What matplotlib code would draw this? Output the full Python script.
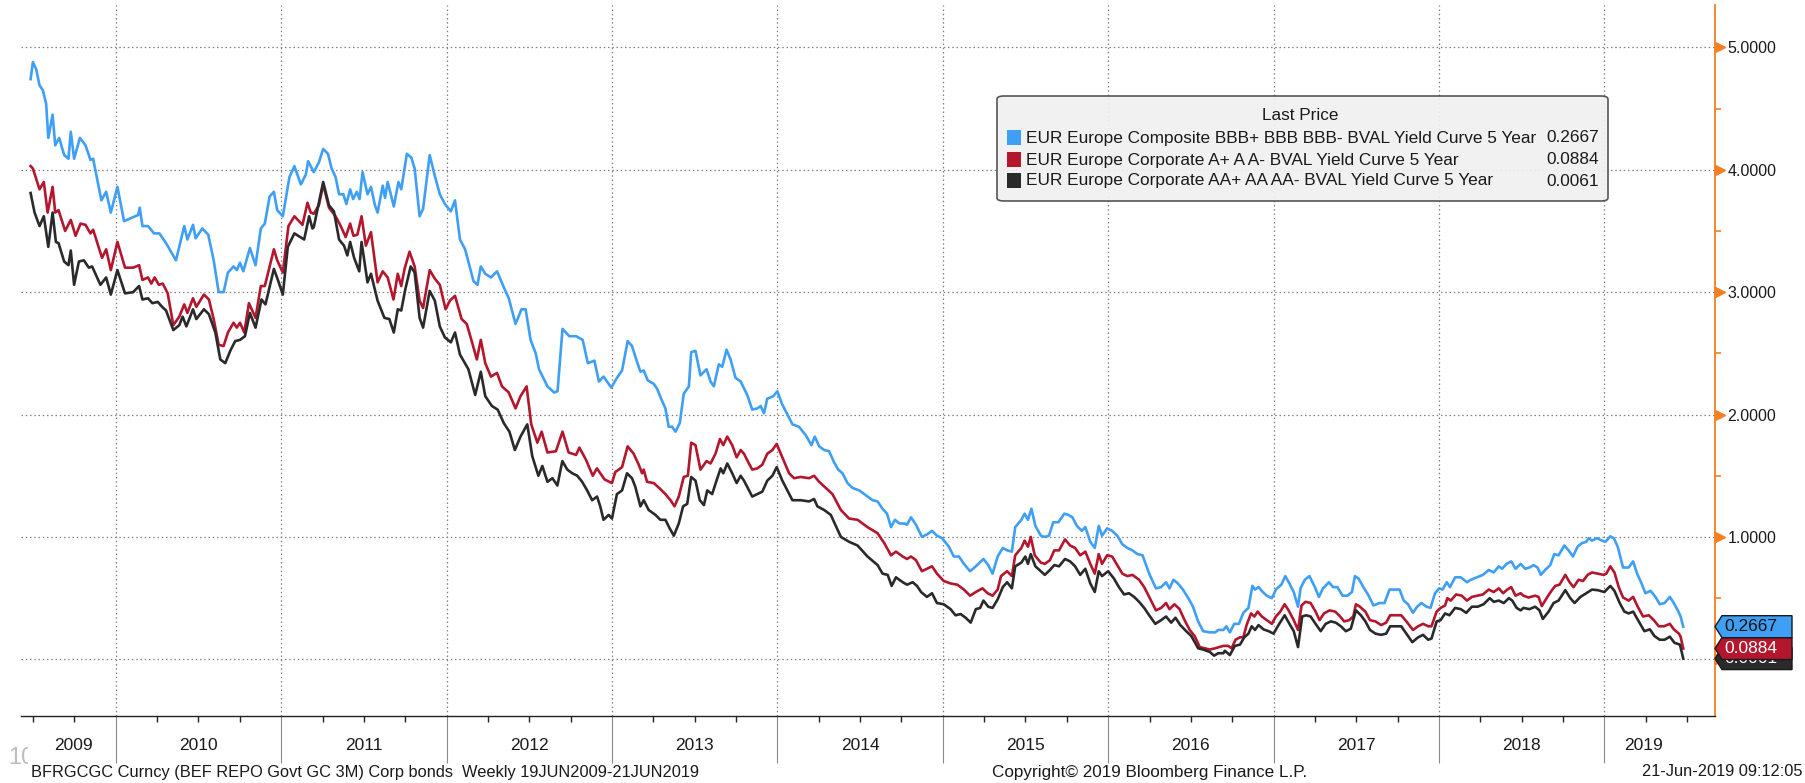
import matplotlib
matplotlib.use('Agg')
import matplotlib.pyplot as plt
from matplotlib.patches import Polygon, FancyBboxPatch, Rectangle
from matplotlib.transforms import Bbox, blended_transform_factory, ScaledTranslation

plt.rcParams['font.family'] = ['Liberation Sans', 'DejaVu Sans']

# ---- data: decimal year, 5y yield (%) ----
bbb_x = [2009.485, 2009.499, 2009.519, 2009.539, 2009.559, 2009.579, 2009.592, 2009.618, 2009.634, 2009.658,
         2009.688, 2009.714, 2009.728, 2009.748, 2009.783, 2009.817, 2009.847, 2009.863, 2009.913, 2009.942,
         2009.970, 2010.010, 2010.050, 2010.135, 2010.145, 2010.161, 2010.195, 2010.231, 2010.264, 2010.304,
         2010.364, 2010.414, 2010.433, 2010.467, 2010.483, 2010.523, 2010.559, 2010.592, 2010.622, 2010.652,
         2010.678, 2010.712, 2010.732, 2010.751, 2010.771, 2010.811, 2010.845, 2010.877, 2010.901, 2010.930,
         2010.956, 2010.976, 2011.010, 2011.050, 2011.080, 2011.119, 2011.149, 2011.163, 2011.197, 2011.228,
         2011.254, 2011.283, 2011.305, 2011.329, 2011.350, 2011.376, 2011.394, 2011.417, 2011.435, 2011.457,
         2011.474, 2011.492, 2011.522, 2011.543, 2011.567, 2011.583, 2011.614, 2011.628, 2011.644, 2011.681,
         2011.709, 2011.726, 2011.760, 2011.787, 2011.807, 2011.837, 2011.858, 2011.898, 2011.929, 2011.959,
         2011.990, 2012.026, 2012.051, 2012.081, 2012.112, 2012.163, 2012.187, 2012.207, 2012.234, 2012.268,
         2012.305, 2012.346, 2012.376, 2012.417, 2012.453, 2012.478, 2012.508, 2012.539, 2012.559, 2012.610,
         2012.650, 2012.671, 2012.701, 2012.742, 2012.783, 2012.823, 2012.854, 2012.894, 2012.921, 2012.949,
         2012.996, 2013.030, 2013.061, 2013.095, 2013.121, 2013.147, 2013.172, 2013.192, 2013.216, 2013.253,
         2013.273, 2013.297, 2013.323, 2013.343, 2013.364, 2013.384, 2013.410, 2013.434, 2013.465, 2013.479,
         2013.505, 2013.535, 2013.572, 2013.596, 2013.616, 2013.646, 2013.667, 2013.693, 2013.717, 2013.747,
         2013.778, 2013.818, 2013.848, 2013.879, 2013.899, 2013.919, 2013.939, 2013.976, 2014.000, 2014.030,
         2014.061, 2014.091, 2014.131, 2014.172, 2014.206, 2014.226, 2014.253, 2014.283, 2014.313, 2014.343,
         2014.368, 2014.394, 2014.424, 2014.455, 2014.495, 2014.535, 2014.576, 2014.606, 2014.636, 2014.663,
         2014.687, 2014.711, 2014.737, 2014.768, 2014.784, 2014.808, 2014.838, 2014.874, 2014.904, 2014.935,
         2014.965, 2014.996, 2015.037, 2015.067, 2015.098, 2015.128, 2015.165, 2015.200, 2015.246, 2015.275,
         2015.301, 2015.332, 2015.363, 2015.389, 2015.418, 2015.438, 2015.475, 2015.495, 2015.515, 2015.536,
         2015.560, 2015.593, 2015.617, 2015.642, 2015.668, 2015.699, 2015.735, 2015.760, 2015.784, 2015.811,
         2015.841, 2015.862, 2015.892, 2015.919, 2015.943, 2015.963, 2015.994, 2016.024, 2016.055, 2016.086,
         2016.116, 2016.147, 2016.177, 2016.208, 2016.248, 2016.289, 2016.320, 2016.350, 2016.371, 2016.395,
         2016.422, 2016.452, 2016.489, 2016.513, 2016.544, 2016.574, 2016.615, 2016.646, 2016.666, 2016.697,
         2016.715, 2016.736, 2016.762, 2016.791, 2016.817, 2016.848, 2016.872, 2016.888, 2016.909, 2016.935,
         2016.959, 2016.990, 2017.014, 2017.047, 2017.071, 2017.096, 2017.122, 2017.148, 2017.163, 2017.189,
         2017.217, 2017.250, 2017.274, 2017.299, 2017.335, 2017.360, 2017.386, 2017.417, 2017.447, 2017.474,
         2017.492, 2017.514, 2017.543, 2017.575, 2017.604, 2017.640, 2017.671, 2017.701, 2017.732, 2017.762,
         2017.787, 2017.813, 2017.843, 2017.868, 2017.894, 2017.925, 2017.949, 2017.976, 2018.002, 2018.022,
         2018.047, 2018.067, 2018.098, 2018.132, 2018.169, 2018.193, 2018.230, 2018.266, 2018.301, 2018.331,
         2018.362, 2018.382, 2018.409, 2018.437, 2018.463, 2018.494, 2018.521, 2018.547, 2018.572, 2018.596,
         2018.616, 2018.642, 2018.673, 2018.697, 2018.723, 2018.758, 2018.784, 2018.810, 2018.838, 2018.865,
         2018.891, 2018.905, 2018.925, 2018.956, 2018.986, 2019.006, 2019.036, 2019.057, 2019.081, 2019.113,
         2019.147, 2019.174, 2019.198, 2019.222, 2019.248, 2019.279, 2019.309, 2019.335, 2019.364, 2019.396,
         2019.420, 2019.444, 2019.461, 2019.477]
bbb_y = [4.74, 4.88, 4.82, 4.69, 4.65, 4.54, 4.26, 4.45, 4.20, 4.26,
         4.12, 4.09, 4.31, 4.09, 4.26, 4.20, 4.08, 4.09, 3.75, 3.82,
         3.65, 3.86, 3.58, 3.63, 3.69, 3.54, 3.54, 3.48, 3.48, 3.40,
         3.26, 3.54, 3.43, 3.55, 3.44, 3.52, 3.47, 3.26, 3.00, 3.00,
         3.16, 3.21, 3.18, 3.24, 3.17, 3.36, 3.22, 3.52, 3.56, 3.78,
         3.82, 3.67, 3.62, 3.94, 4.03, 3.88, 3.96, 4.07, 3.98, 4.06,
         4.17, 4.13, 4.01, 3.94, 3.80, 3.80, 3.72, 3.84, 3.76, 3.82,
         3.76, 3.98, 3.80, 3.86, 3.71, 3.65, 3.87, 3.77, 3.90, 3.70,
         3.90, 3.84, 4.13, 4.10, 4.01, 3.62, 3.68, 4.12, 3.95, 3.80,
         3.72, 3.66, 3.75, 3.43, 3.35, 3.09, 3.06, 3.21, 3.15, 3.12,
         3.17, 3.04, 2.95, 2.74, 2.86, 2.86, 2.61, 2.50, 2.37, 2.23,
         2.18, 2.19, 2.70, 2.64, 2.64, 2.61, 2.42, 2.44, 2.27, 2.31,
         2.22, 2.30, 2.36, 2.60, 2.56, 2.45, 2.35, 2.36, 2.28, 2.25,
         2.21, 2.13, 2.05, 1.90, 1.90, 1.86, 1.93, 2.17, 2.23, 2.51,
         2.52, 2.32, 2.37, 2.27, 2.23, 2.41, 2.39, 2.53, 2.45, 2.30,
         2.27, 2.16, 2.04, 2.05, 2.07, 2.01, 2.13, 2.15, 2.19, 2.08,
         2.00, 1.92, 1.90, 1.83, 1.75, 1.82, 1.74, 1.71, 1.70, 1.61,
         1.55, 1.52, 1.44, 1.40, 1.38, 1.34, 1.30, 1.29, 1.23, 1.19,
         1.08, 1.14, 1.11, 1.11, 1.10, 1.16, 1.10, 1.00, 1.02, 1.05,
         1.01, 0.99, 0.92, 0.84, 0.84, 0.78, 0.72, 0.76, 0.82, 0.77,
         0.70, 0.84, 0.91, 0.89, 0.88, 1.08, 1.14, 1.19, 1.14, 1.23,
         1.09, 1.01, 1.00, 1.01, 1.12, 1.12, 1.19, 1.18, 1.16, 1.09,
         1.05, 1.08, 0.96, 0.91, 1.09, 1.01, 1.07, 1.05, 1.01, 0.94,
         0.91, 0.89, 0.86, 0.85, 0.70, 0.58, 0.59, 0.63, 0.58, 0.65,
         0.62, 0.57, 0.49, 0.43, 0.31, 0.23, 0.22, 0.22, 0.24, 0.24,
         0.27, 0.22, 0.29, 0.29, 0.38, 0.42, 0.60, 0.57, 0.59, 0.55,
         0.52, 0.50, 0.57, 0.61, 0.68, 0.62, 0.55, 0.43, 0.58, 0.65,
         0.68, 0.59, 0.51, 0.58, 0.63, 0.59, 0.59, 0.52, 0.52, 0.55,
         0.68, 0.66, 0.59, 0.52, 0.44, 0.46, 0.46, 0.57, 0.57, 0.57,
         0.48, 0.45, 0.38, 0.43, 0.46, 0.43, 0.42, 0.54, 0.58, 0.57,
         0.63, 0.59, 0.67, 0.67, 0.63, 0.65, 0.67, 0.69, 0.73, 0.71,
         0.76, 0.74, 0.78, 0.80, 0.74, 0.78, 0.74, 0.75, 0.77, 0.75,
         0.69, 0.73, 0.77, 0.86, 0.85, 0.93, 0.89, 0.84, 0.92, 0.95,
         0.96, 0.99, 0.97, 0.99, 0.97, 0.96, 1.005, 0.99, 0.92, 0.75,
         0.75, 0.80, 0.70, 0.63, 0.54, 0.56, 0.51, 0.45, 0.46, 0.51,
         0.46, 0.40, 0.35, 0.2667]

a_x = [2009.485, 2009.499, 2009.539, 2009.565, 2009.588, 2009.618, 2009.634, 2009.654, 2009.694, 2009.728,
       2009.757, 2009.787, 2009.817, 2009.847, 2009.863, 2009.917, 2009.942, 2009.970, 2010.010, 2010.056,
       2010.105, 2010.141, 2010.161, 2010.195, 2010.215, 2010.235, 2010.260, 2010.284, 2010.314, 2010.348,
       2010.384, 2010.414, 2010.433, 2010.467, 2010.487, 2010.533, 2010.563, 2010.592, 2010.622, 2010.652,
       2010.678, 2010.712, 2010.732, 2010.751, 2010.777, 2010.805, 2010.845, 2010.877, 2010.901, 2010.956,
       2010.976, 2011.010, 2011.044, 2011.080, 2011.129, 2011.159, 2011.179, 2011.197, 2011.228, 2011.254,
       2011.289, 2011.329, 2011.360, 2011.390, 2011.417, 2011.437, 2011.461, 2011.486, 2011.512, 2011.543,
       2011.583, 2011.614, 2011.644, 2011.679, 2011.705, 2011.726, 2011.746, 2011.776, 2011.807, 2011.837,
       2011.858, 2011.898, 2011.929, 2011.959, 2011.994, 2012.020, 2012.051, 2012.091, 2012.122, 2012.152,
       2012.183, 2012.207, 2012.234, 2012.268, 2012.305, 2012.335, 2012.376, 2012.417, 2012.447, 2012.484,
       2012.512, 2012.549, 2012.575, 2012.610, 2012.661, 2012.701, 2012.738, 2012.783, 2012.803, 2012.843,
       2012.884, 2012.909, 2012.955, 2013.000, 2013.020, 2013.061, 2013.095, 2013.131, 2013.162, 2013.182,
       2013.192, 2013.212, 2013.253, 2013.293, 2013.323, 2013.354, 2013.378, 2013.404, 2013.434, 2013.459,
       2013.479, 2013.505, 2013.535, 2013.572, 2013.596, 2013.626, 2013.653, 2013.673, 2013.697, 2013.727,
       2013.754, 2013.778, 2013.798, 2013.828, 2013.848, 2013.879, 2013.909, 2013.939, 2013.970, 2013.996,
       2014.030, 2014.071, 2014.101, 2014.141, 2014.192, 2014.222, 2014.253, 2014.293, 2014.333, 2014.384,
       2014.434, 2014.485, 2014.545, 2014.606, 2014.646, 2014.687, 2014.717, 2014.758, 2014.784, 2014.808,
       2014.838, 2014.874, 2014.904, 2014.935, 2014.965, 2015.006, 2015.047, 2015.088, 2015.128, 2015.165,
       2015.200, 2015.240, 2015.271, 2015.301, 2015.332, 2015.352, 2015.389, 2015.418, 2015.438, 2015.475,
       2015.495, 2015.515, 2015.532, 2015.556, 2015.593, 2015.617, 2015.648, 2015.674, 2015.703, 2015.739,
       2015.770, 2015.800, 2015.831, 2015.862, 2015.892, 2015.919, 2015.943, 2015.963, 2015.994, 2016.024,
       2016.055, 2016.086, 2016.116, 2016.147, 2016.187, 2016.218, 2016.248, 2016.289, 2016.320, 2016.350,
       2016.371, 2016.401, 2016.432, 2016.462, 2016.493, 2016.523, 2016.554, 2016.585, 2016.615, 2016.646,
       2016.672, 2016.697, 2016.726, 2016.746, 2016.770, 2016.797, 2016.817, 2016.837, 2016.864, 2016.884,
       2016.904, 2016.929, 2016.959, 2016.990, 2017.014, 2017.041, 2017.067, 2017.091, 2017.122, 2017.148,
       2017.169, 2017.193, 2017.224, 2017.254, 2017.278, 2017.305, 2017.339, 2017.372, 2017.396, 2017.427,
       2017.457, 2017.482, 2017.498, 2017.522, 2017.555, 2017.583, 2017.616, 2017.650, 2017.681, 2017.705,
       2017.742, 2017.772, 2017.803, 2017.843, 2017.874, 2017.904, 2017.935, 2017.955, 2017.986, 2018.010,
       2018.037, 2018.051, 2018.071, 2018.104, 2018.138, 2018.169, 2018.199, 2018.234, 2018.266, 2018.301,
       2018.331, 2018.362, 2018.388, 2018.413, 2018.437, 2018.463, 2018.494, 2018.511, 2018.541, 2018.582,
       2018.602, 2018.622, 2018.653, 2018.683, 2018.703, 2018.729, 2018.764, 2018.790, 2018.814, 2018.844,
       2018.871, 2018.899, 2018.925, 2018.960, 2018.996, 2019.012, 2019.036, 2019.061, 2019.087, 2019.113,
       2019.147, 2019.174, 2019.202, 2019.234, 2019.269, 2019.299, 2019.329, 2019.360, 2019.396, 2019.420,
       2019.451, 2019.461, 2019.477]
a_y = [4.03, 4.01, 3.84, 3.90, 3.65, 3.86, 3.65, 3.67, 3.50, 3.59,
       3.46, 3.56, 3.55, 3.48, 3.51, 3.28, 3.35, 3.18, 3.41, 3.20,
       3.20, 3.22, 3.10, 3.12, 3.07, 3.12, 3.06, 3.07, 2.99, 2.73,
       2.80, 2.90, 2.83, 2.95, 2.88, 2.98, 2.94, 2.78, 2.57, 2.56,
       2.67, 2.75, 2.71, 2.75, 2.67, 2.91, 2.79, 3.05, 3.05, 3.35,
       3.26, 3.16, 3.54, 3.62, 3.55, 3.73, 3.65, 3.64, 3.71, 3.88,
       3.69, 3.62, 3.54, 3.45, 3.56, 3.46, 3.47, 3.62, 3.38, 3.49,
       3.08, 3.17, 3.12, 2.94, 3.15, 3.05, 3.19, 3.33, 3.21, 2.93,
       2.87, 3.18, 3.11, 3.06, 2.86, 2.93, 2.97, 2.78, 2.74, 2.60,
       2.45, 2.61, 2.42, 2.31, 2.34, 2.23, 2.18, 2.05, 2.15, 2.23,
       1.92, 1.77, 1.86, 1.69, 1.70, 1.86, 1.69, 1.67, 1.73, 1.63,
       1.50, 1.56, 1.47, 1.44, 1.53, 1.57, 1.74, 1.68, 1.59, 1.52,
       1.55, 1.45, 1.44, 1.39, 1.35, 1.30, 1.25, 1.33, 1.49, 1.50,
       1.77, 1.75, 1.55, 1.62, 1.60, 1.68, 1.80, 1.75, 1.82, 1.75,
       1.65, 1.71, 1.68, 1.60, 1.55, 1.56, 1.59, 1.68, 1.71, 1.76,
       1.65, 1.52, 1.48, 1.49, 1.48, 1.50, 1.45, 1.40, 1.35, 1.22,
       1.15, 1.14, 1.08, 1.03, 0.95, 0.85, 0.88, 0.84, 0.82, 0.84,
       0.81, 0.72, 0.74, 0.76, 0.70, 0.64, 0.62, 0.61, 0.57, 0.52,
       0.55, 0.58, 0.54, 0.52, 0.57, 0.68, 0.72, 0.68, 0.85, 0.91,
       0.97, 0.92, 1.00, 0.85, 0.79, 0.78, 0.81, 0.89, 0.89, 0.98,
       0.93, 0.91, 0.85, 0.88, 0.78, 0.70, 0.86, 0.78, 0.85, 0.84,
       0.77, 0.70, 0.68, 0.69, 0.65, 0.59, 0.51, 0.40, 0.42, 0.46,
       0.41, 0.45, 0.41, 0.32, 0.24, 0.19, 0.10, 0.09, 0.08, 0.09,
       0.10, 0.11, 0.11, 0.09, 0.16, 0.18, 0.18, 0.28, 0.375, 0.35,
       0.39, 0.35, 0.32, 0.29, 0.35, 0.39, 0.45, 0.40, 0.32, 0.24,
       0.44, 0.47, 0.46, 0.39, 0.32, 0.375, 0.40, 0.39, 0.36, 0.31,
       0.32, 0.35, 0.45, 0.43, 0.39, 0.32, 0.31, 0.28, 0.30, 0.36,
       0.36, 0.36, 0.31, 0.24, 0.27, 0.29, 0.27, 0.27, 0.39, 0.42,
       0.44, 0.50, 0.48, 0.53, 0.52, 0.48, 0.51, 0.52, 0.53, 0.57,
       0.55, 0.58, 0.54, 0.57, 0.59, 0.52, 0.54, 0.52, 0.505, 0.52,
       0.51, 0.435, 0.505, 0.565, 0.60, 0.61, 0.69, 0.63, 0.59, 0.65,
       0.64, 0.69, 0.71, 0.70, 0.69, 0.70, 0.76, 0.71, 0.59, 0.505,
       0.48, 0.51, 0.43, 0.35, 0.36, 0.32, 0.27, 0.27, 0.29, 0.245,
       0.21, 0.185, 0.0884]

aa_x = [2009.485, 2009.509, 2009.539, 2009.565, 2009.592, 2009.618, 2009.638, 2009.654, 2009.688, 2009.714,
        2009.728, 2009.748, 2009.777, 2009.807, 2009.837, 2009.857, 2009.907, 2009.942, 2009.970, 2010.010,
        2010.056, 2010.105, 2010.141, 2010.161, 2010.195, 2010.221, 2010.254, 2010.280, 2010.304, 2010.348,
        2010.384, 2010.404, 2010.427, 2010.467, 2010.487, 2010.533, 2010.563, 2010.602, 2010.632, 2010.662,
        2010.692, 2010.722, 2010.751, 2010.781, 2010.811, 2010.845, 2010.881, 2010.905, 2010.956, 2010.980,
        2011.010, 2011.040, 2011.080, 2011.139, 2011.169, 2011.189, 2011.197, 2011.254, 2011.289, 2011.319,
        2011.350, 2011.380, 2011.400, 2011.417, 2011.441, 2011.472, 2011.486, 2011.522, 2011.543, 2011.583,
        2011.624, 2011.654, 2011.681, 2011.705, 2011.726, 2011.750, 2011.783, 2011.807, 2011.837, 2011.858,
        2011.898, 2011.929, 2011.959, 2011.990, 2012.026, 2012.051, 2012.081, 2012.132, 2012.173, 2012.207,
        2012.234, 2012.274, 2012.309, 2012.346, 2012.380, 2012.413, 2012.447, 2012.488, 2012.518, 2012.555,
        2012.579, 2012.610, 2012.640, 2012.670, 2012.700, 2012.730, 2012.760, 2012.790, 2012.820, 2012.850,
        2012.880, 2012.910, 2012.929, 2012.949, 2012.980, 2013.000, 2013.030, 2013.061, 2013.091, 2013.121,
        2013.141, 2013.172, 2013.192, 2013.222, 2013.263, 2013.293, 2013.323, 2013.349, 2013.374, 2013.404,
        2013.430, 2013.455, 2013.479, 2013.505, 2013.531, 2013.556, 2013.576, 2013.606, 2013.632, 2013.657,
        2013.673, 2013.697, 2013.727, 2013.754, 2013.778, 2013.798, 2013.848, 2013.879, 2013.909, 2013.939,
        2013.970, 2013.996, 2014.030, 2014.091, 2014.141, 2014.192, 2014.222, 2014.242, 2014.283, 2014.323,
        2014.384, 2014.434, 2014.485, 2014.545, 2014.606, 2014.636, 2014.667, 2014.691, 2014.717, 2014.758,
        2014.784, 2014.818, 2014.844, 2014.869, 2014.904, 2014.935, 2014.965, 2015.006, 2015.047, 2015.077,
        2015.108, 2015.138, 2015.169, 2015.200, 2015.226, 2015.246, 2015.275, 2015.301, 2015.332, 2015.363,
        2015.389, 2015.418, 2015.438, 2015.475, 2015.499, 2015.515, 2015.532, 2015.560, 2015.593, 2015.617,
        2015.648, 2015.674, 2015.703, 2015.739, 2015.770, 2015.800, 2015.831, 2015.862, 2015.892, 2015.919,
        2015.943, 2015.963, 2016.000, 2016.035, 2016.065, 2016.096, 2016.126, 2016.157, 2016.187, 2016.218,
        2016.248, 2016.285, 2016.320, 2016.350, 2016.381, 2016.407, 2016.436, 2016.472, 2016.503, 2016.544,
        2016.574, 2016.615, 2016.640, 2016.666, 2016.697, 2016.705, 2016.736, 2016.766, 2016.797, 2016.823,
        2016.848, 2016.868, 2016.888, 2016.909, 2016.939, 2016.970, 2017.000, 2017.030, 2017.067, 2017.096,
        2017.122, 2017.148, 2017.173, 2017.197, 2017.224, 2017.254, 2017.285, 2017.315, 2017.346, 2017.376,
        2017.407, 2017.437, 2017.467, 2017.498, 2017.528, 2017.555, 2017.583, 2017.616, 2017.650, 2017.681,
        2017.705, 2017.742, 2017.772, 2017.803, 2017.839, 2017.874, 2017.904, 2017.935, 2017.955, 2017.986,
        2018.010, 2018.037, 2018.063, 2018.098, 2018.132, 2018.165, 2018.199, 2018.234, 2018.270, 2018.307,
        2018.331, 2018.362, 2018.392, 2018.423, 2018.443, 2018.470, 2018.494, 2018.511, 2018.547, 2018.582,
        2018.608, 2018.628, 2018.663, 2018.693, 2018.723, 2018.764, 2018.794, 2018.820, 2018.855, 2018.891,
        2018.925, 2018.960, 2019.000, 2019.036, 2019.061, 2019.093, 2019.121, 2019.147, 2019.174, 2019.208,
        2019.242, 2019.275, 2019.303, 2019.335, 2019.364, 2019.396, 2019.424, 2019.457, 2019.477]
aa_y = [3.81, 3.65, 3.54, 3.62, 3.37, 3.65, 3.41, 3.40, 3.25, 3.22,
        3.34, 3.06, 3.25, 3.26, 3.20, 3.21, 3.06, 3.12, 2.98, 3.18,
        2.99, 3.00, 3.05, 2.94, 2.95, 2.91, 2.92, 2.88, 2.85, 2.69,
        2.73, 2.80, 2.72, 2.86, 2.78, 2.86, 2.82, 2.67, 2.45, 2.42,
        2.52, 2.60, 2.61, 2.64, 2.83, 2.71, 2.94, 2.90, 3.19, 3.10,
        2.98, 3.37, 3.48, 3.43, 3.62, 3.52, 3.53, 3.90, 3.71, 3.66,
        3.43, 3.38, 3.30, 3.41, 3.28, 3.17, 3.41, 3.08, 3.15, 2.93,
        2.79, 2.78, 2.67, 2.86, 2.85, 3.02, 3.21, 3.16, 2.79, 2.71,
        3.01, 2.93, 2.72, 2.63, 2.59, 2.67, 2.49, 2.37, 2.16, 2.35,
        2.15, 2.07, 2.04, 1.93, 1.86, 1.71, 1.82, 1.92, 1.66, 1.50,
        1.58, 1.45, 1.48, 1.42, 1.62, 1.55, 1.52, 1.50, 1.45, 1.38,
        1.30, 1.33, 1.25, 1.14, 1.18, 1.15, 1.35, 1.38, 1.52, 1.48,
        1.41, 1.25, 1.30, 1.22, 1.18, 1.14, 1.14, 1.07, 1.01, 1.11,
        1.25, 1.27, 1.49, 1.46, 1.30, 1.26, 1.38, 1.35, 1.46, 1.56,
        1.52, 1.60, 1.52, 1.44, 1.50, 1.46, 1.33, 1.35, 1.37, 1.46,
        1.50, 1.57, 1.46, 1.30, 1.30, 1.29, 1.31, 1.25, 1.22, 1.18,
        1.00, 0.96, 0.93, 0.84, 0.77, 0.70, 0.69, 0.60, 0.67, 0.63,
        0.61, 0.63, 0.60, 0.55, 0.51, 0.54, 0.46, 0.45, 0.41, 0.36,
        0.37, 0.34, 0.30, 0.41, 0.42, 0.48, 0.43, 0.42, 0.49, 0.59,
        0.63, 0.58, 0.76, 0.79, 0.84, 0.78, 0.86, 0.76, 0.72, 0.69,
        0.73, 0.77, 0.76, 0.82, 0.80, 0.76, 0.69, 0.74, 0.62, 0.55,
        0.72, 0.68, 0.72, 0.66, 0.59, 0.53, 0.54, 0.51, 0.47, 0.42,
        0.36, 0.29, 0.32, 0.35, 0.30, 0.34, 0.28, 0.23, 0.19, 0.09,
        0.08, 0.06, 0.03, 0.05, 0.05, 0.07, 0.035, 0.11, 0.12, 0.18,
        0.21, 0.27, 0.24, 0.28, 0.245, 0.23, 0.21, 0.28, 0.36, 0.29,
        0.23, 0.10, 0.35, 0.36, 0.35, 0.29, 0.23, 0.29, 0.31, 0.30,
        0.27, 0.23, 0.25, 0.40, 0.36, 0.31, 0.24, 0.21, 0.20, 0.21,
        0.27, 0.27, 0.27, 0.21, 0.14, 0.18, 0.20, 0.16, 0.17, 0.31,
        0.32, 0.375, 0.36, 0.42, 0.41, 0.38, 0.43, 0.43, 0.45, 0.50,
        0.47, 0.48, 0.46, 0.50, 0.48, 0.42, 0.40, 0.42, 0.41, 0.43,
        0.40, 0.33, 0.39, 0.46, 0.48, 0.565, 0.50, 0.46, 0.51, 0.54,
        0.57, 0.565, 0.55, 0.60, 0.56, 0.46, 0.39, 0.375, 0.39, 0.31,
        0.23, 0.245, 0.19, 0.16, 0.16, 0.185, 0.135, 0.12, 0.0061]

series_names = ['EUR Europe Composite BBB+ BBB BBB- BVAL Yield Curve 5 Year',
                'EUR Europe Corporate A+ A A- BVAL Yield Curve 5 Year',
                'EUR Europe Corporate AA+ AA AA- BVAL Yield Curve 5 Year']
last_values = [0.2667, 0.0884, 0.0061]
year_labels = [2009, 2010, 2011, 2012, 2013, 2014, 2015, 2016, 2017, 2018, 2019]
y_ticks = [0, 1, 2, 3, 4, 5]
footer_left = 'BFRGCGC Curncy (BEF REPO Govt GC 3M) Corp bonds  Weekly 19JUN2009-21JUN2019'
footer_mid = 'Copyright\u00a9 2019 Bloomberg Finance L.P.'
footer_right = '21-Jun-2019 09:12:05'

colors = ['#3F9FF5', '#B3162D', '#2A2A2A']
orange = '#F57F20'
grid_c = '#808080'

W, H = 1805, 783
fig = plt.figure(figsize=(W / 100, H / 100), dpi=100)
fig.patch.set_facecolor('white')

# axes box in pixels
L, R, T, B = 21, 1715, 5, 716
ax = fig.add_axes([L / W, 1 - B / H, (R - L) / W, (B - T) / H])
xmin, xmax = 2009.427, 2019.669
ymin, ymax = -0.463, 5.346
ax.set_xlim(xmin, xmax)
ax.set_ylim(ymin, ymax)

for s in ['left', 'top']:
    ax.spines[s].set_visible(False)
ax.spines['right'].set_color(orange)
ax.spines['right'].set_linewidth(1.3)
ax.spines['bottom'].set_color('#222222')
ax.spines['bottom'].set_linewidth(1.0)

# grid
for v in y_ticks:
    ax.axhline(v, color=grid_c, lw=0.9, ls=(0, (1.2, 2.2)), zorder=1)
for yr in year_labels[1:]:
    ax.axvline(yr, color=grid_c, lw=0.9, ls=(0, (1.2, 2.2)), zorder=1)

# lines
for xs, ys, c in zip([bbb_x, a_x, aa_x], [bbb_y, a_y, aa_y], colors):
    ax.plot(xs, ys, color=c, lw=1.9, solid_joinstyle='round', zorder=3)

# x axis: year separators + quarter ticks
ax.set_xticks(year_labels[1:])
ax.set_xticklabels([])
quarters = [y + q for y in year_labels for q in (0.25, 0.5, 0.75) if xmin < y + q < xmax]
ax.set_xticks(quarters, minor=True)
ax.tick_params(axis='x', which='major', length=34, width=0.8, color='#8A8A8A', direction='out')
ax.tick_params(axis='x', which='minor', length=4, width=1.0, color='#222222', direction='out')

x_end = bbb_x[-1]
trans_xa = blended_transform_factory(ax.transData, ax.transAxes)
for yr in year_labels:
    lo, hi = max(yr, bbb_x[0]), min(yr + 1, x_end)
    ax.text((lo + hi) / 2, -(746 - B) / (B - T), str(yr), transform=trans_xa,
            ha='center', va='center', fontsize=12.5, color='#1a1a1a')

# y axis on the right
ax.yaxis.tick_right()
ax.set_yticks(y_ticks)
ax.set_yticklabels(['%.4f' % v for v in y_ticks])
ax.set_yticks([0.5, 1.5, 2.5, 3.5, 4.5], minor=True)
ax.tick_params(axis='y', which='major', length=0, pad=9, labelsize=11.5, labelcolor='#1a1a1a')
ax.tick_params(axis='y', which='minor', length=4, width=1.2, color=orange, direction='out')
trans_ya = blended_transform_factory(ax.transAxes, ax.transData)
ax.plot([1.0] * len(y_ticks), y_ticks, ls='none', marker='>', ms=7, color=orange, mec=orange,
        transform=trans_ya + ScaledTranslation(3.5 / 72, 0, fig.dpi_scale_trans), clip_on=False, zorder=4)


def fy(v):
    return 1 - (B - (v - ymin) / (ymax - ymin) * (B - T)) / H


# last price tags (black under red under blue)
tag_h, tag_notch, tag_r = 11, 7, 1792
tag_text_c = ['#111111', 'white', 'white']
for i in [2, 1, 0]:
    v = last_values[i]
    yc = fy(v) * H
    z = 10 + 2 * (2 - i)
    pts = [(R, yc), (R + tag_notch, yc + tag_h), (tag_r, yc + tag_h), (tag_r, yc - tag_h), (R + tag_notch, yc - tag_h)]
    pts = [(px / W, py / H) for px, py in pts]
    fig.add_artist(Polygon(pts, closed=True, facecolor=colors[i], edgecolor='#1a1a1a', lw=1.0,
                           transform=fig.transFigure, zorder=z))
    fig.text((R + 9) / W, fy(v), '%.4f' % v, ha='left', va='center', fontsize=12.5,
             color=tag_text_c[i], zorder=z + 1)

# legend box
bx0, bx1, by0, by1 = 997, 1608, 96, 201
fig.add_artist(FancyBboxPatch((bx0 / W, 1 - by1 / H), (bx1 - bx0) / W, (by1 - by0) / H,
                              boxstyle='round,pad=0,rounding_size=0.004', transform=fig.transFigure,
                              facecolor='#F0F0F0', edgecolor='#4a4a4a', lw=1.2, alpha=0.93, zorder=8))
fig.text(1300 / W, 1 - 116 / H, 'Last Price', ha='center', va='center', fontsize=12.3, color='#1a1a1a', zorder=9)
for i, (name, v) in enumerate(zip(series_names, last_values)):
    yy = [138, 160, 181][i]
    fig.add_artist(Rectangle((1007 / W, 1 - (yy + 7) / H), 14 / W, 15 / H, transform=fig.transFigure,
                             facecolor=colors[i], edgecolor='none', zorder=9))
    fig.text(1026 / W, 1 - yy / H, name, ha='left', va='center', fontsize=12.4, color='#1a1a1a', zorder=9)
    fig.text(1599 / W, 1 - yy / H, '%.4f' % v, ha='right', va='center', fontsize=12.4, color='#1a1a1a', zorder=9)

# footer
t = fig.text(8 / W, 1 - 758 / H, '10', ha='left', va='center', fontsize=17, color='#bdbdbd')
t.set_clip_box(Bbox.from_extents(0, 0, 28, H))
t.set_clip_on(True)
fig.text(31 / W, 1 - 772 / H, footer_left, ha='left', va='center', fontsize=11.8, color='#1a1a1a')
fig.text(992 / W, 1 - 772 / H, footer_mid, ha='left', va='center', fontsize=12.3, color='#1a1a1a')
fig.text(1803 / W, 1 - 772 / H, footer_right, ha='right', va='center', fontsize=11.8, color='#1a1a1a')

fig.savefig('out.png', dpi=100, facecolor='white')
